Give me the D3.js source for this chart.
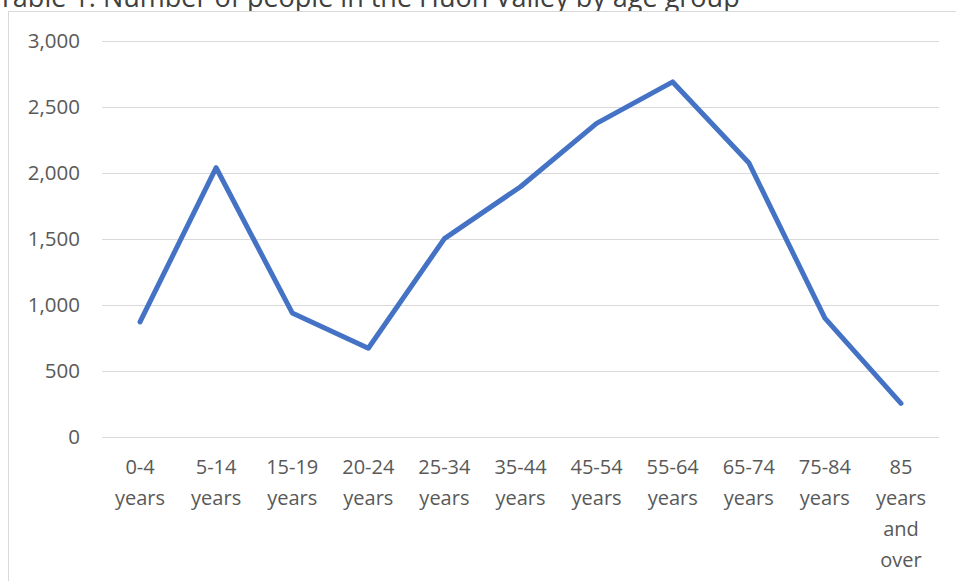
<!DOCTYPE html>
<html>
<head>
<meta charset="utf-8">
<script src="https://cdn.jsdelivr.net/npm/d3@7"></script>
<style>
  body { margin: 0; background: #fff; }
  svg { display: block; font-family: "Open Sans", "Noto Sans", sans-serif; }
</style>
</head>
<body>
<svg id="chart"></svg>
<script>
// age groups (each label split on lines) and people per group
const ageGroups = [
  ["0-4", "years"], ["5-14", "years"], ["15-19", "years"], ["20-24", "years"],
  ["25-34", "years"], ["35-44", "years"], ["45-54", "years"], ["55-64", "years"],
  ["65-74", "years"], ["75-84", "years"], ["85", "years", "and", "over"]
];
const people = [872, 2040, 940, 672, 1503, 1896, 2376, 2690, 2078, 900, 255];
const yTicks = [0, 500, 1000, 1500, 2000, 2500, 3000];
const title = "Table 1: Number of people in the Huon Valley by age group";

const width = 956, height = 581;
const plotLeft = 102, plotRight = 939, plotTop = 41, plotBottom = 437;

const svg = d3.select('#chart')
              .attr('width', width)
              .attr('height', height);

// title sits above the frame, its descenders hidden by it
svg.append('text')
   .attr('x', -2).attr('y', 7)
   .attr('font-size', 27)
   .attr('fill', '#404040')
   .text(title);

// chart frame (runs off the right and bottom edge)
svg.append('rect')
   .attr('x', 8.5).attr('y', 11.5)
   .attr('width', 1000).attr('height', 700)
   .attr('fill', '#fff')
   .attr('stroke', '#d9d9d9');

const x = d3.scaleBand()
            .domain(ageGroups.map((d, i) => i))
            .range([plotLeft, plotRight]);

const y = d3.scaleLinear()
            .domain([0, 3000])
            .range([plotBottom, plotTop]);

// gridlines + y labels
const yAxis = svg.append('g')
   .attr('transform', 'translate(' + plotLeft + ',0)')
   .call(d3.axisLeft(y).tickValues(yTicks)
           .tickSize(-(plotRight - plotLeft))
           .tickPadding(22)
           .tickFormat(d3.format(',')));
yAxis.select('.domain').remove();
yAxis.selectAll('line').attr('stroke', '#d9d9d9');
yAxis.selectAll('text')
     .attr('fill', '#595959')
     .attr('font-size', 20.5)
     .attr('font-family', '"Open Sans", sans-serif');

// x labels, multi-line
const xLabels = svg.append('g')
   .selectAll('text')
   .data(ageGroups)
   .enter()
   .append('text')
   .attr('x', (d, i) => x(i) + x.bandwidth() / 2)
   .attr('y', 474)
   .attr('text-anchor', 'middle')
   .attr('font-size', 20)
   .attr('fill', '#595959');
xLabels.selectAll('tspan')
   .data(d => d)
   .enter()
   .append('tspan')
   .attr('x', function() { return this.parentNode.getAttribute('x'); })
   .attr('dy', (d, i) => i === 0 ? 0 : 31)
   .text(d => d);

const line = d3.line()
               .x((d, i) => x(i) + x.bandwidth() / 2)
               .y(d => y(d));

svg.append('path')
   .datum(people)
   .attr('d', line)
   .attr('fill', 'none')
   .attr('stroke', '#4472c4')
   .attr('stroke-width', 5)
   .attr('stroke-linecap', 'round')
   .attr('stroke-linejoin', 'round');
</script>
</body>
</html>
